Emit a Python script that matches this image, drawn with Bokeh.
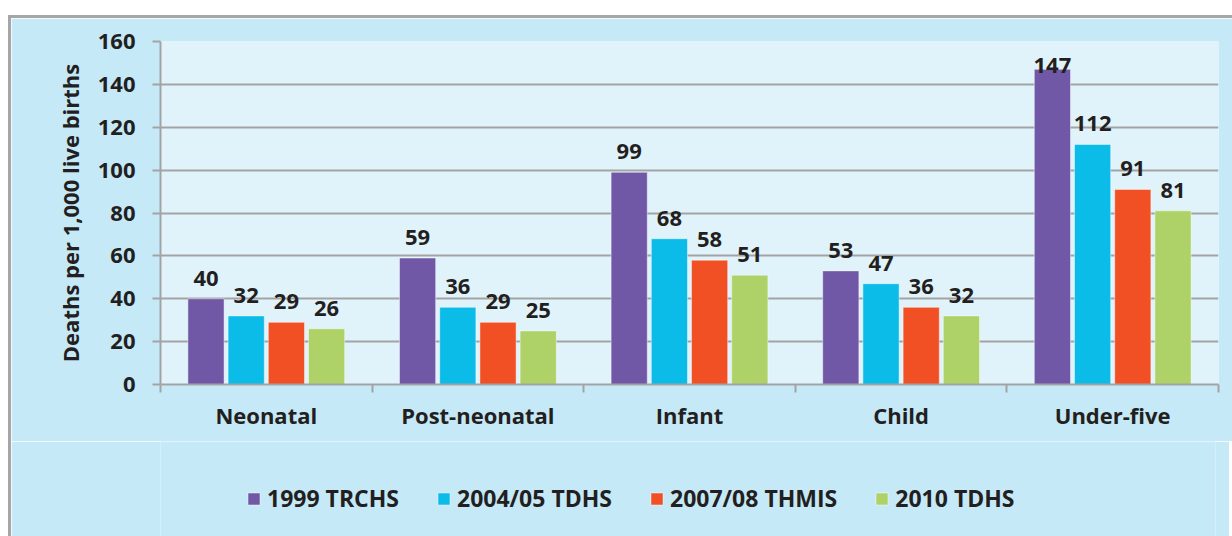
import numpy as np
from bokeh.plotting import figure
from bokeh.models import ColumnDataSource, Range1d, FixedTicker, Legend, LegendItem, Spacer
from bokeh.layouts import column, row
from bokeh.core.properties import value
from bokeh.embed import file_html
from bokeh.resources import INLINE

categories = ["Neonatal", "Post-neonatal", "Infant", "Child", "Under-five"]
series_names = ["1999 TRCHS", "2004/05 TDHS", "2007/08 THMIS", "2010 TDHS"]
s1999 = [40, 59, 99, 53, 147]
s2004 = [32, 36, 68, 47, 112]
s2007 = [29, 29, 58, 36, 91]
s2010 = [26, 25, 51, 32, 81]
y_ticks = [0, 20, 40, 60, 80, 100, 120, 140, 160]
y_label = "Deaths per 1,000 live births"

colors = ["#7058a6", "#0bbbe8", "#f15024", "#aed168"]
FONT = "Open Sans"
TXT = "#231f20"
GRAY = "#a3a3a3"
OUTER = "#c6e9f8"
BORDER = "3px solid #a6a6a6"

p = figure(frame_width=1055, frame_height=340, output_backend="svg", toolbar_location=None,
           x_range=Range1d(0, len(categories)), y_range=Range1d(0, y_ticks[-1]),
           min_border_left=149, min_border_right=17, min_border_top=23, min_border_bottom=60,
           background_fill_color="#e0f3fb", border_fill_color=OUTER)
p.outline_line_color = None
p.styles = {"border-top": BORDER, "border-left": BORDER}

# axes
yax = p.yaxis[0]
yax.ticker = FixedTicker(ticks=y_ticks)
yax.axis_label = y_label
yax.axis_label_text_font = FONT
yax.axis_label_text_font_style = "bold"
yax.axis_label_text_font_size = "22px"
yax.axis_label_text_color = TXT
yax.axis_label_standoff = 10
yax.major_label_text_font = FONT
yax.major_label_text_font_style = "bold"
yax.major_label_text_font_size = "22px"
yax.major_label_text_color = TXT
yax.major_label_standoff = 17
yax.major_tick_out = 8
yax.major_tick_in = 0
yax.minor_tick_line_color = None
yax.axis_line_color = GRAY
yax.axis_line_width = 2
yax.major_tick_line_color = GRAY
yax.major_tick_line_width = 2

xax = p.xaxis[0]
centers = [i + 0.5 for i in range(len(categories))]
xax.ticker = FixedTicker(ticks=centers, minor_ticks=list(range(len(categories) + 1)))
xax.major_label_overrides = {c: name for c, name in zip(centers, categories)}
xax.major_label_text_font = FONT
xax.major_label_text_font_style = "bold"
xax.major_label_text_font_size = "22px"
xax.major_label_text_color = TXT
xax.major_label_standoff = 7
xax.major_tick_line_color = None
xax.major_tick_out = 0
xax.major_tick_in = 0
xax.minor_tick_out = 8
xax.minor_tick_in = 0
xax.minor_tick_line_color = GRAY
xax.minor_tick_line_width = 2
xax.axis_line_color = GRAY
xax.axis_line_width = 2

p.xgrid.grid_line_color = None
p.ygrid.ticker = FixedTicker(ticks=y_ticks)
p.ygrid.grid_line_color = GRAY
p.ygrid.grid_line_width = 2

# separate strip underneath for the legend (same data sources, bars kept out of view)
lg = figure(width=1221, height=95, output_backend="svg", toolbar_location=None,
            x_range=Range1d(0, len(categories)), y_range=Range1d(1000, 1001),
            x_axis_type=None, y_axis_type=None,
            min_border_left=0, min_border_right=0, min_border_top=0, min_border_bottom=0,
            background_fill_color=OUTER, border_fill_color=OUTER)
lg.outline_line_color = None
lg.xgrid.grid_line_color = None
lg.ygrid.grid_line_color = None
lg.styles = {"border-left": BORDER}

slot = 0.19
bar_w = 0.171
items = []
for j, (name, vals, col) in enumerate(zip(series_names, [s1999, s2004, s2007, s2010], colors)):
    off = (j - 1.5) * slot
    v = np.array(vals, dtype=float)
    src = ColumnDataSource(dict(
        x=np.array(centers) + off,
        top=v,
        label=[str(int(a)) for a in vals],
        ly=np.minimum(v + 9.6, 148.7),
    ))
    bar_style = dict(fill_color=col, line_color="white", line_alpha=0.45, line_width=1)
    p.vbar(x="x", top="top", bottom=0, width=bar_w, source=src, **bar_style)
    p.text(x="x", y="ly", text="label", source=src, text_align="center",
           text_baseline="alphabetic", text_font=value(FONT), text_font_style="bold",
           text_font_size="22px", text_color=TXT)
    r = lg.vbar(x="x", top="top", bottom=0, width=bar_w, source=src, **bar_style)
    items.append(LegendItem(label=name, renderers=[r]))

legend = Legend(items=items, orientation="horizontal", location=(86, 22),
                glyph_width=15, glyph_height=15, label_standoff=6, spacing=37,
                padding=0, margin=0, background_fill_alpha=0, border_line_alpha=0,
                label_text_font=FONT, label_text_font_style="bold",
                label_text_font_size="23px", label_text_color=TXT)
lg.add_layout(legend, "center")

layout = column(Spacer(height=15), row(Spacer(width=8), column(p, lg)))
open("out.html", "w").write(file_html(layout, INLINE))
